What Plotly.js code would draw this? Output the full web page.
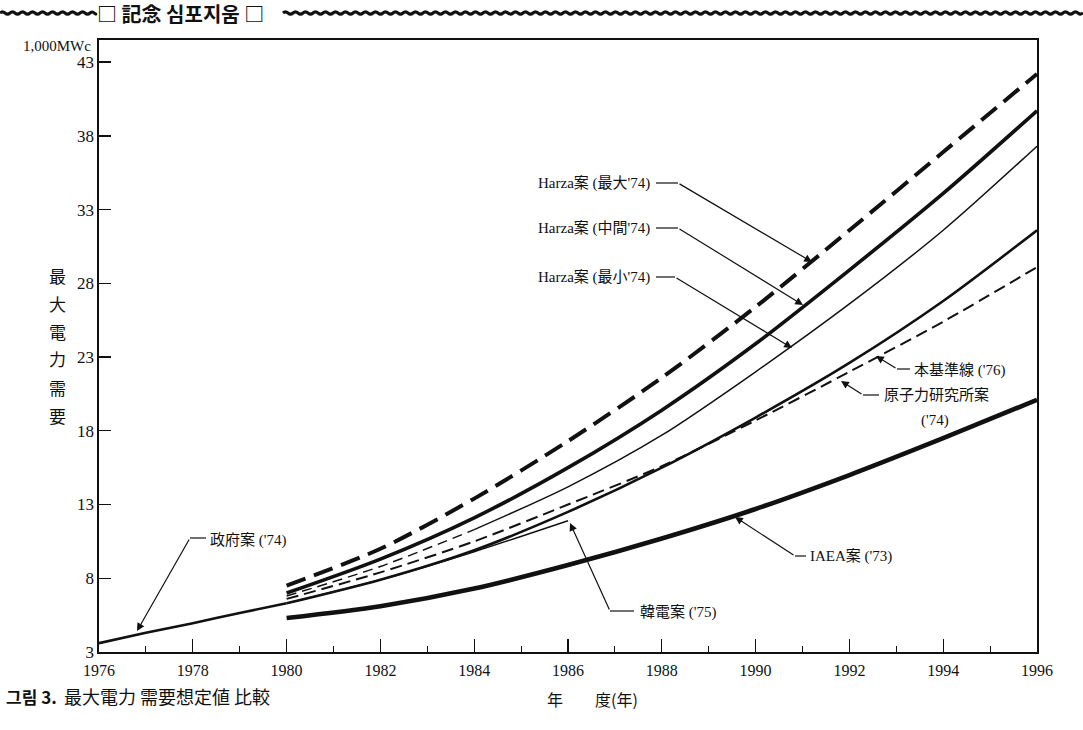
<!DOCTYPE html>
<html>
<head>
<meta charset="utf-8">
<script src="https://cdn.plot.ly/plotly-3.0.1.min.js"></script>
<style>html,body{margin:0;padding:0;background:#fff;}#chart{width:1083px;height:730px;}</style>
</head>
<body>
<div id="chart"></div>
<script>
// ---- data ----
const yearsGov   = [1976, 1977, 1978, 1979, 1980];
const govPlan    = [3.6, 4.3, 4.95, 5.65, 6.3];            // 政府案('74)

const yearsFcst  = [1980, 1982, 1984, 1986, 1988, 1990, 1992, 1994, 1996];
const harzaMax   = [7.5, 10.0, 13.4, 17.3, 21.6, 26.4, 31.6, 36.9, 42.2];   // Harza案(最大'74)
const harzaMid   = [7.0, 9.3, 12.1, 15.5, 19.4, 23.9, 28.9, 34.1, 39.7];   // Harza案(中間'74)
const harzaMin   = [6.8, 8.8, 11.3, 14.2, 17.7, 22.0, 26.6, 31.6, 37.3];   // Harza案(最小'74)
const basePlan   = [6.3, 7.9, 9.9, 12.5, 15.5, 18.9, 22.6, 26.8, 31.6];    // 本基準線('76)
const kaeriPlan  = [6.6, 8.4, 10.5, 13.0, 15.6, 18.7, 22.0, 25.4, 29.1];   // 原子力研究所案('74)
const iaeaPlan   = [5.3, 6.1, 7.3, 8.9, 10.7, 12.7, 15.0, 17.5, 20.1];     // IAEA案('73)

const yearsKepco = [1980, 1982, 1984, 1986];
const kepcoPlan  = [6.3, 7.9, 9.8, 11.9];                                   // 韓電案('75)

const xTickVals  = [1976, 1978, 1980, 1982, 1984, 1986, 1988, 1990, 1992, 1994, 1996];
const yTickVals  = [3, 8, 13, 18, 23, 28, 33, 38, 43];

// ---- layout helpers (pixel -> axis) ----
const L = 99, R = 1037, T = 40, B = 652;
const XR = [1976, 1996], YR = [3, 44.5];
const xd = px => XR[0] + (px - L) * (XR[1] - XR[0]) / (R - L);
const yd = py => YR[0] + (B - py) * (YR[1] - YR[0]) / (B - T);
const xp = px => (px - L) / (R - L);
const yp = py => (B - py) / (B - T);

const SERIF = "'Liberation Serif', 'Noto Sans CJK JP', serif";
const SANS  = "'Noto Sans CJK KR', 'Noto Sans', sans-serif";
const INK = '#111';

function line(x, y, width, dash) {
  return {x, y, type: 'scatter', mode: 'lines', hoverinfo: 'skip', showlegend: false,
    line: {color: INK, width, dash: dash || 'solid', shape: 'spline', smoothing: 0.8}};
}
const splitAt = 1984;
const minEarlyX = yearsFcst.filter(v => v <= splitAt);
const minEarlyY = harzaMin.slice(0, minEarlyX.length);
const minLateX  = yearsFcst.filter(v => v >= splitAt);
const minLateY  = harzaMin.slice(yearsFcst.length - minLateX.length);

const traces = [
  line(yearsGov, govPlan, 2.6),
  line(yearsKepco, kepcoPlan, 1.4),
  line(yearsFcst, basePlan, 2.6),
  line(yearsFcst, kaeriPlan, 2.0, '12px,6px'),
  line(minEarlyX, minEarlyY, 1.5, '10px,6px'),
  line(minLateX, minLateY, 1.5),
  line(yearsFcst, harzaMid, 3.6),
  line(yearsFcst, harzaMax, 4.0, '20px,9px'),
  line(yearsFcst, iaeaPlan, 4.6)
];

// ---- callouts: label, text anchor, horizontal leader, arrow ----
const callouts = [
  {t: "Harza案 (最大'74)", tx: 652, ty: 183, anchor: 'right', h: [656, 678], hy: 183, tail: [678, 183], tip: [812, 262]},
  {t: "Harza案 (中間'74)", tx: 652, ty: 228, anchor: 'right', h: [656, 678], hy: 228, tail: [678, 228], tip: [803, 305]},
  {t: "Harza案 (最小'74)", tx: 652, ty: 277, anchor: 'right', h: [656, 675], hy: 277, tail: [675, 277], tip: [792, 348]},
  {t: "本基準線 ('76)",     tx: 912, ty: 370, anchor: 'left',  h: [897, 910], hy: 369, tail: [897, 369], tip: [876, 356]},
  {t: "原子力研究所案",      tx: 882, ty: 395, anchor: 'left',  h: [863, 879], hy: 395, tail: [863, 395], tip: [841, 381]},
  {t: "政府案 ('74)",       tx: 208, ty: 540, anchor: 'left',  h: [190, 206], hy: 538, tail: [190, 538], tip: [137, 631]},
  {t: "韓電案 ('75)",       tx: 638, ty: 612, anchor: 'left',  h: [610, 634], hy: 611, tail: [610, 611], tip: [570, 523]},
  {t: "IAEA案 ('73)",       tx: 808, ty: 556, anchor: 'left',  h: [795, 806], hy: 556, tail: [795, 556], tip: [735, 517]}
];

const annotations = [];
const shapes = [];
callouts.forEach(c => {
  annotations.push({x: xd(c.tx), y: yd(c.ty), xref: 'x', yref: 'y', text: c.t, showarrow: false,
    xanchor: c.anchor, yanchor: 'middle', font: {family: SERIF, size: 15, color: INK}});
  shapes.push({type: 'line', xref: 'x', yref: 'y', x0: xd(c.h[0]), x1: xd(c.h[1]), y0: yd(c.hy), y1: yd(c.hy),
    line: {color: INK, width: 1.2}});
  annotations.push({x: xd(c.tip[0]), y: yd(c.tip[1]), xref: 'x', yref: 'y', ax: xd(c.tail[0]), ay: yd(c.tail[1]),
    axref: 'x', ayref: 'y', text: '', showarrow: true, arrowhead: 2, arrowsize: 1.3, arrowwidth: 1.2,
    arrowcolor: INK, standoff: 0, startstandoff: 0});
});
annotations.push({x: xd(935), y: yd(420), xref: 'x', yref: 'y', text: "('74)", showarrow: false,
  xanchor: 'center', yanchor: 'middle', font: {family: SERIF, size: 15, color: INK}});

// unit label
annotations.push({x: xp(57), y: yp(46), xref: 'paper', yref: 'paper', text: '1,000MWc', showarrow: false,
  xanchor: 'center', yanchor: 'middle', font: {family: SERIF, size: 15, color: INK}});
// vertical y-axis title
const yTitleChars = ['最', '大', '電', '力', '需', '要'];
yTitleChars.forEach((ch, i) => {
  annotations.push({x: xp(57), y: yp(275 + i * 28), xref: 'paper', yref: 'paper', text: ch, showarrow: false,
    xanchor: 'center', yanchor: 'middle', font: {family: "'Noto Sans CJK JP', serif", size: 17, color: INK}});
});
// x-axis title
annotations.push({x: xp(592), y: yp(699), xref: 'paper', yref: 'paper', text: '年　　度(年)', showarrow: false,
  xanchor: 'center', yanchor: 'middle', font: {family: "'Noto Sans CJK JP', serif", size: 16, color: INK}});
// caption
annotations.push({x: xp(4), y: yp(696), xref: 'paper', yref: 'paper',
  text: '<b>그림 3.</b>', showarrow: false,
  xanchor: 'left', yanchor: 'middle', font: {family: SANS, size: 17, color: INK}});
annotations.push({x: xp(62), y: yp(696), xref: 'paper', yref: 'paper',
  text: '最大電力 需要想定値 比較', showarrow: false,
  xanchor: 'left', yanchor: 'middle', font: {family: "'Noto Sans CJK JP', sans-serif", size: 18, color: INK}});
// header
annotations.push({x: xp(95), y: yp(14), xref: 'paper', yref: 'paper',
  text: '<b>□ 記念 심포지움 □</b>', showarrow: false,
  xanchor: 'left', yanchor: 'middle', font: {family: SANS, size: 20, color: INK}});

function wavePath(x0, x1, yc, amp, period) {
  let d = 'M ' + xp(x0) + ' ' + yp(yc);
  for (let x = x0; x < x1; x += period) {
    const xm = Math.min(x + period / 2, x1), xe = Math.min(x + period, x1);
    d += ' Q ' + xp(x + period / 4) + ' ' + yp(yc - amp) + ' ' + xp(xm) + ' ' + yp(yc);
    d += ' Q ' + xp(x + 3 * period / 4) + ' ' + yp(yc + amp) + ' ' + xp(xe) + ' ' + yp(yc);
  }
  return d;
}
shapes.push({type: 'path', xref: 'paper', yref: 'paper', path: wavePath(0, 94, 13, 2.2, 10), line: {color: INK, width: 3}});
shapes.push({type: 'path', xref: 'paper', yref: 'paper', path: wavePath(283, 1083, 13, 2.2, 10), line: {color: INK, width: 3}});

const layout = {
  width: 1083, height: 730,
  margin: {l: L, r: 1083 - R, t: T, b: 730 - B, pad: 0},
  paper_bgcolor: '#fff', plot_bgcolor: '#fff',
  showlegend: false,
  font: {family: SERIF, color: INK, size: 16},
  xaxis: {range: XR, tickvals: xTickVals, ticktext: xTickVals.map(String), ticks: 'inside', ticklen: 13,
    tickwidth: 1.3, tickcolor: INK, showgrid: false, zeroline: false, showline: true, linecolor: INK, linewidth: 1.6,
    mirror: true, tickfont: {family: SERIF, size: 16, color: INK}, ticklabelstandoff: 3,
    minor: {dtick: 1, tick0: 1976, ticks: 'inside', ticklen: 6, tickwidth: 1.1, tickcolor: INK, showgrid: false}},
  yaxis: {range: YR, tickvals: yTickVals, ticktext: yTickVals.map(String), ticks: 'inside', ticklen: 12,
    tickwidth: 1.3, tickcolor: INK, showgrid: false, zeroline: false, showline: true, linecolor: INK, linewidth: 1.6,
    mirror: true, tickfont: {family: SERIF, size: 17, color: INK}},
  annotations, shapes
};

Plotly.newPlot('chart', traces, layout, {staticPlot: true, displayModeBar: false});
</script>
</body>
</html>
